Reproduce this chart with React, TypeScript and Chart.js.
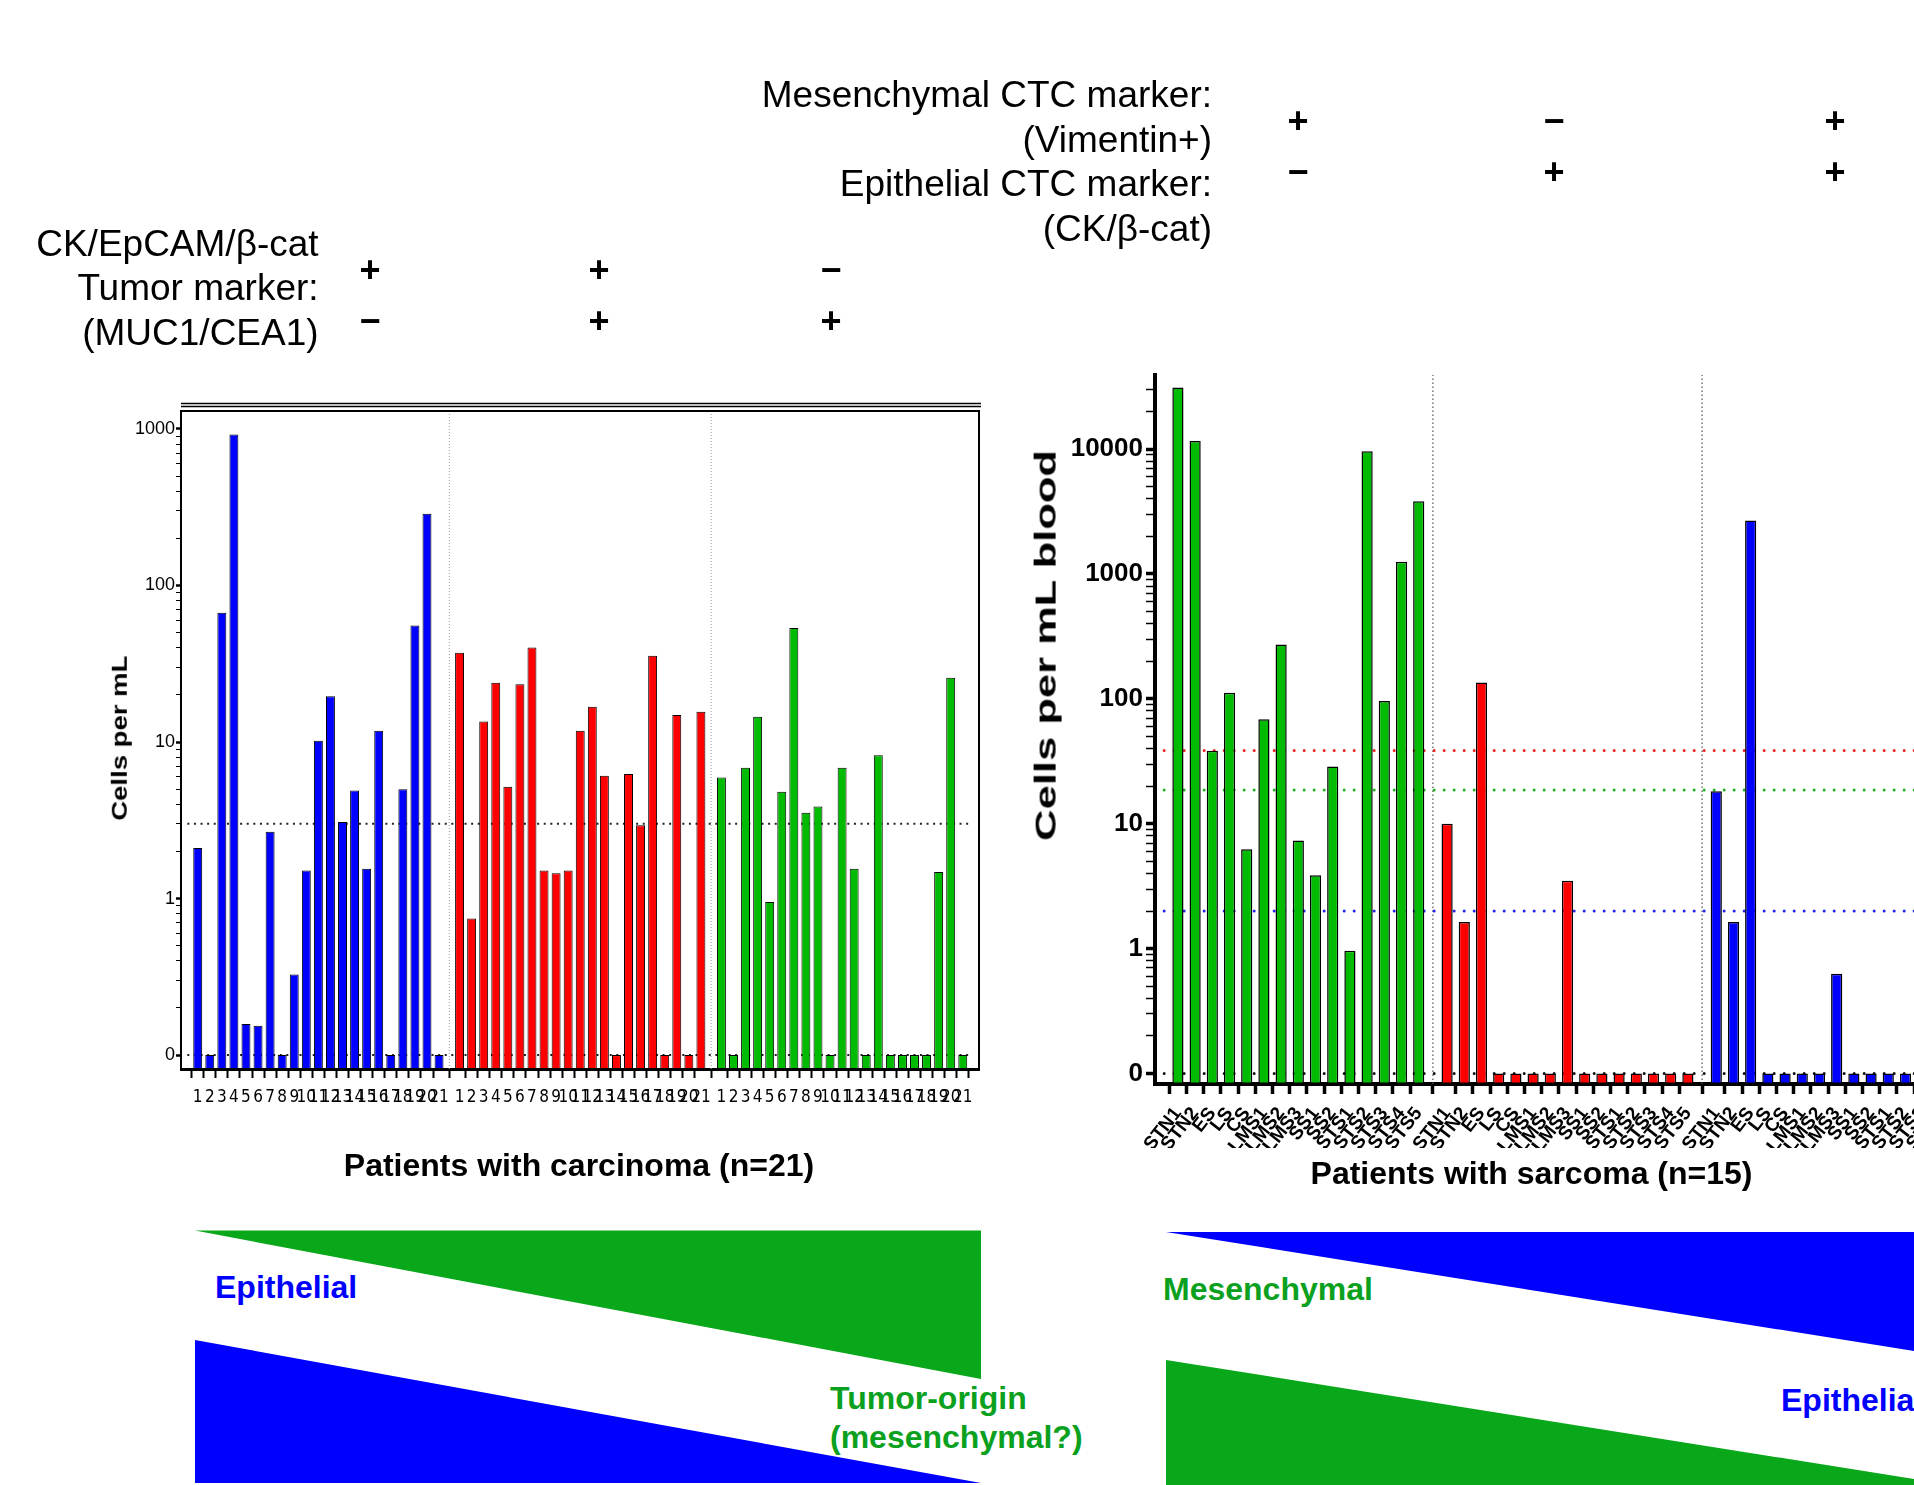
import React, { useEffect, useRef } from 'react';
import { Chart, registerables } from 'chart.js';

Chart.register(...registerables);

const SANS = "'Liberation Sans', Arial, Helvetica, sans-serif";
const CONDENSED = "'DejaVu Sans Condensed', 'Liberation Sans', sans-serif";

// ---------------- Carcinoma panel (left) ----------------
const carcinomaPatients = ['1', '2', '3', '4', '5', '6', '7', '8', '9', '10', '11', '12', '13', '14', '15', '16', '17', '18', '19', '20', '21'];
// CK/EpCAM/β-cat +, MUC1/CEA1 −  (blue)
const carcinomaEpithelial = [2.1, 0, 67, 920, 0.158, 0.154, 2.67, 0, 0.327, 1.51, 10.2, 19.6, 3.08, 4.9, 1.55, 11.8, 0, 5.0, 55.6, 287, 0];
// CK/EpCAM/β-cat +, MUC1/CEA1 +  (red)
const carcinomaEpithelialTumor = [37.2, 0.745, 13.5, 23.9, 5.17, 23.4, 40.1, 1.51, 1.45, 1.51, 11.8, 16.8, 6.08, 0, 6.24, 2.94, 35.6, 0, 14.9, 0, 15.6];
// CK/EpCAM/β-cat −, MUC1/CEA1 +  (green)
const carcinomaTumorOnly = [5.93, 0, 6.84, 14.5, 0.95, 4.81, 53.5, 3.53, 3.87, 0, 6.84, 1.55, 0, 8.22, 0, 0, 0, 0, 1.48, 25.7, 0];
const carcinomaCutoff = 3;
const carcinomaAxisRange = [0.0815, 1302];
const carcinomaDecades = [0.1, 1, 10, 100, 1000];

// ---------------- Sarcoma panel (right) ----------------
const sarcomaPatients = ['STN1', 'STN2', 'ES', 'LS', 'CS', 'LMS1', 'LMS2', 'LMS3', 'SS1', 'SS2', 'STS1', 'STS2', 'STS3', 'STS4', 'STS5'];
// Vimentin +, CK/β-cat −  (green)
const sarcomaMesenchymal = [31200, 11600, 38.4, 112, 6.25, 68.7, 273, 7.33, 3.87, 28.7, 0.96, 9630, 96, 1250, 3830];
// Vimentin −, CK/β-cat +  (red)
const sarcomaEpithelial = [10.0, 1.63, 135, 0, 0, 0, 0, 3.49, 0, 0, 0, 0, 0, 0, 0];
// Vimentin +, CK/β-cat +  (blue)
const sarcomaDual = [18.2, 1.63, 2680, 0, 0, 0, 0, 0.63, 0, 0, 0, 0, 0, 0, 0];
const sarcomaCutoffEpithelial = 38.5;
const sarcomaCutoffMesenchymal = 18.6;
const sarcomaCutoffDual = 2;
const sarcomaAxisRange = [0.0824, 39200];
const sarcomaDecades = [0.1, 1, 10, 100, 1000, 10000];

// "0" is drawn at the lowest decade of the log axis
const ZERO_LEVEL = 0.1;

function logTicks(decades: number[], max: number) {
  const out: { value: number; major: boolean }[] = [];
  decades.forEach((d) => {
    for (let m = 1; m <= 9; m++) {
      const v = parseFloat((m * d).toPrecision(6));
      if (v <= max) out.push({ value: v, major: m === 1 });
    }
  });
  return out;
}

function decadeLabel(decades: number[]) {
  return (v: number) => (v === ZERO_LEVEL ? '0' : decades.includes(v) ? String(v) : '');
}

function bars(values: number[], group: number, n: number, gap: number, color: string, pct: number, bw: number) {
  return {
    type: 'bar',
    data: values.map((v, i) => ({ x: group * (n + gap) + i, y: v > 0 ? v : ZERO_LEVEL })),
    backgroundColor: color,
    borderColor: '#000',
    borderWidth: bw,
    borderSkipped: false,
    grouped: false,
    barPercentage: pct,
    categoryPercentage: 1,
    order: 1,
  };
}

function rule(points: { x: number; y: number }[], color: string, width: number, dash: number[], cap: string) {
  return {
    type: 'line',
    data: points,
    borderColor: color,
    borderWidth: width,
    borderDash: dash,
    borderCapStyle: cap,
    pointRadius: 0,
    fill: false,
    tension: 0,
    order: 5,
  };
}

const framePlugin = {
  id: 'frame',
  afterDraw(chart: any) {
    const { ctx, chartArea } = chart;
    const { left, right, top, bottom } = chartArea;
    ctx.save();
    ctx.strokeStyle = '#000';
    ctx.lineWidth = 2;
    ctx.beginPath();
    ctx.moveTo(left, top);
    ctx.lineTo(right, top);
    ctx.lineTo(right, bottom);
    ctx.stroke();
    ctx.lineWidth = 1.5;
    ctx.beginPath();
    ctx.moveTo(left, top - 4.5);
    ctx.lineTo(right + 2, top - 4.5);
    ctx.moveTo(left, top - 7.5);
    ctx.lineTo(right + 2, top - 7.5);
    ctx.stroke();
    ctx.restore();
  },
};

function carcinomaConfig(): any {
  const n = carcinomaPatients.length;
  const gap = 0.7;
  const xs = [0, 1, 2].flatMap((g) => carcinomaPatients.map((_, i) => g * (n + gap) + i));
  const labels = [0, 1, 2].flatMap(() => carcinomaPatients);
  const xMin = -0.86;
  const xMax = xs[xs.length - 1] + 0.82;
  const [yMin, yMax] = carcinomaAxisRange;
  const seps = [1, 2].map((g) => g * (n + gap) - (1 + gap) / 2);
  return {
    type: 'bar',
    data: {
      datasets: [
        bars(carcinomaEpithelial, 0, n, gap, '#0000FF', 0.74, 1),
        bars(carcinomaEpithelialTumor, 1, n, gap, '#FF0000', 0.74, 1),
        bars(carcinomaTumorOnly, 2, n, gap, '#00BB00', 0.74, 1),
        rule([{ x: xMin, y: carcinomaCutoff }, { x: xMax, y: carcinomaCutoff }], '#222', 2, [2, 4.6], 'butt'),
        rule([{ x: xMin, y: ZERO_LEVEL }, { x: xMax, y: ZERO_LEVEL }], '#222', 2, [2, 4.6], 'butt'),
        ...seps.map((s) => rule([{ x: s, y: yMin }, { x: s, y: yMax }], '#9a9a9a', 1, [1, 2], 'butt')),
      ],
    },
    options: {
      responsive: false,
      animation: false,
      devicePixelRatio: 1,
      layout: { padding: { top: 411, left: 0, right: 21, bottom: 0 } },
      plugins: { legend: { display: false }, tooltip: { enabled: false } },
      scales: {
        x: {
          type: 'linear',
          min: xMin,
          max: xMax,
          afterBuildTicks: (s: any) => {
            s.ticks = xs.map((v) => ({ value: v }));
          },
          afterFit: (s: any) => {
            s.height = 61;
          },
          ticks: {
            autoSkip: false,
            maxRotation: 0,
            minRotation: 0,
            padding: 9,
            color: '#000',
            font: { family: CONDENSED, size: 17 },
            callback: (_v: number, i: number) => labels[i],
          },
          grid: { display: true, drawOnChartArea: false, drawTicks: true, tickLength: 9, tickWidth: 2, tickColor: '#000' },
          border: { display: true, color: '#000', width: 3 },
        },
        y: {
          type: 'logarithmic',
          min: yMin,
          max: yMax,
          afterBuildTicks: (s: any) => {
            s.ticks = logTicks(carcinomaDecades, yMax);
          },
          afterFit: (s: any) => {
            s.width = 181;
          },
          ticks: {
            autoSkip: false,
            padding: 1,
            color: '#000',
            font: { family: SANS, size: 18 },
            callback: decadeLabel(carcinomaDecades),
          },
          grid: {
            display: true,
            drawOnChartArea: false,
            drawTicks: true,
            tickLength: 5,
            tickWidth: (c: any) => (c.tick && carcinomaDecades.includes(c.tick.value) ? 2.5 : 1),
            tickColor: '#000',
          },
          border: { display: true, color: '#000', width: 2 },
        },
      },
    },
    plugins: [framePlugin],
  };
}

function sarcomaConfig(): any {
  const n = sarcomaPatients.length;
  const gap = 0.65;
  const xs = [0, 1, 2].flatMap((g) => sarcomaPatients.map((_, i) => g * (n + gap) + i));
  const labels = [0, 1, 2].flatMap(() => sarcomaPatients);
  const xMin = -0.8;
  const xMax = xs[xs.length - 1] + 0.8;
  const [yMin, yMax] = sarcomaAxisRange;
  const seps = [1, 2].map((g) => g * (n + gap) - (1 + gap) / 2);
  const hRule = (y: number, color: string) =>
    rule([{ x: xMin, y }, { x: xMax, y }], color, 3, [0, 10], 'round');
  return {
    type: 'bar',
    data: {
      datasets: [
        bars(sarcomaMesenchymal, 0, n, gap, '#00BB00', 0.65, 1.5),
        bars(sarcomaEpithelial, 1, n, gap, '#FF0000', 0.65, 1.5),
        bars(sarcomaDual, 2, n, gap, '#0000FF', 0.65, 1.5),
        hRule(sarcomaCutoffEpithelial, '#ee2222'),
        hRule(sarcomaCutoffMesenchymal, '#22b022'),
        hRule(sarcomaCutoffDual, '#2222ee'),
        hRule(ZERO_LEVEL, '#111'),
        ...seps.map((s) => rule([{ x: s, y: yMin }, { x: s, y: yMax }], '#555', 1.2, [1.5, 2.5], 'butt')),
      ],
    },
    options: {
      responsive: false,
      animation: false,
      devicePixelRatio: 1,
      layout: { padding: { top: 375, left: 0, right: 20, bottom: 0 } },
      plugins: { legend: { display: false }, tooltip: { enabled: false } },
      scales: {
        x: {
          type: 'linear',
          min: xMin,
          max: xMax,
          afterBuildTicks: (s: any) => {
            s.ticks = xs.map((v) => ({ value: v }));
          },
          afterFit: (s: any) => {
            s.height = 64;
          },
          ticks: {
            autoSkip: false,
            maxRotation: 52,
            minRotation: 52,
            padding: 9,
            color: '#000',
            font: { family: SANS, size: 19, weight: 'bold' },
            callback: (_v: number, i: number) => labels[i],
          },
          grid: { display: true, drawOnChartArea: false, drawTicks: true, tickLength: 10, tickWidth: 3.5, tickColor: '#000' },
          border: { display: true, color: '#000', width: 4 },
        },
        y: {
          type: 'logarithmic',
          min: yMin,
          max: yMax,
          afterBuildTicks: (s: any) => {
            s.ticks = logTicks(sarcomaDecades, yMax);
          },
          afterFit: (s: any) => {
            s.width = 1155;
          },
          ticks: {
            autoSkip: false,
            padding: 3,
            color: '#000',
            font: { family: SANS, size: 26, weight: 'bold' },
            callback: decadeLabel(sarcomaDecades),
          },
          grid: {
            display: true,
            drawOnChartArea: false,
            drawTicks: true,
            tickLength: 9,
            tickWidth: (c: any) => (c.tick && sarcomaDecades.includes(c.tick.value) ? 3.5 : 1.5),
            tickColor: '#000',
          },
          border: { display: true, color: '#000', width: 4 },
        },
      },
    },
  };
}

type TxtProps = {
  x: number;
  y: number;
  size: number;
  align?: 'left' | 'right' | 'center';
  bold?: boolean;
  color?: string;
  children: React.ReactNode;
};

function Txt({ x, y, size, align = 'left', bold = false, color = '#000', children }: TxtProps) {
  const W = 1200;
  const left = align === 'left' ? x : align === 'right' ? x - W : x - W / 2;
  return (
    <div
      style={{
        position: 'absolute',
        left,
        top: y - size * 0.6,
        width: W,
        height: size * 1.2,
        lineHeight: `${size * 1.2}px`,
        fontSize: size,
        fontWeight: bold ? 700 : 400,
        fontFamily: SANS,
        color,
        textAlign: align,
        whiteSpace: 'nowrap',
      }}
    >
      {children}
    </div>
  );
}

function VTxt({ x, y, size, stretch, children }: { x: number; y: number; size: number; stretch: number; children: React.ReactNode }) {
  const W = 800;
  return (
    <div
      style={{
        position: 'absolute',
        left: x - W / 2,
        top: y - size * 0.6,
        width: W,
        height: size * 1.2,
        lineHeight: `${size * 1.2}px`,
        fontSize: size,
        fontWeight: 700,
        fontFamily: SANS,
        color: '#000',
        textAlign: 'center',
        whiteSpace: 'nowrap',
        transform: `rotate(-90deg) scaleX(${stretch})`,
        transformOrigin: '50% 50%',
      }}
    >
      {children}
    </div>
  );
}

const GREEN_SHAPE = '#08A81A';
const GREEN_TEXT = '#0BA11E';
const BLUE = '#0000FF';

export default function App() {
  const leftRef = useRef<HTMLCanvasElement>(null);
  const rightRef = useRef<HTMLCanvasElement>(null);

  useEffect(() => {
    const a = new Chart(leftRef.current as HTMLCanvasElement, carcinomaConfig());
    const b = new Chart(rightRef.current as HTMLCanvasElement, sarcomaConfig());
    return () => {
      a.destroy();
      b.destroy();
    };
  }, []);

  return (
    <div
      style={{
        position: 'fixed',
        left: 0,
        top: 0,
        width: 1914,
        height: 1485,
        overflow: 'hidden',
        background: '#fff',
        fontFamily: SANS,
      }}
    >
      <svg width={1914} height={1485} style={{ position: 'absolute', left: 0, top: 0 }}>
        <polygon points="195,1230.5 981,1230.5 981,1379" fill={GREEN_SHAPE} />
        <polygon points="195,1340 195,1483 981,1483" fill={BLUE} />
        <polygon points="1166,1232 1914,1232 1914,1351" fill={BLUE} />
        <polygon points="1166,1360 1914,1479 1914,1485 1166,1485" fill={GREEN_SHAPE} />
      </svg>

      <canvas ref={leftRef} width={1000} height={1130} style={{ position: 'absolute', left: 0, top: 0 }} />
      <canvas ref={rightRef} width={2000} height={1148} style={{ position: 'absolute', left: 0, top: 0 }} />

      {/* sarcoma marker header */}
      <Txt x={1212} y={95} size={37} align="right">Mesenchymal CTC marker:</Txt>
      <Txt x={1212} y={140} size={37} align="right">(Vimentin+)</Txt>
      <Txt x={1212} y={184} size={37} align="right">Epithelial CTC marker:</Txt>
      <Txt x={1212} y={229.5} size={37} align="right">(CK/β-cat)</Txt>
      <Txt x={1298} y={121} size={36} align="center" bold>+</Txt>
      <Txt x={1554} y={121} size={36} align="center" bold>−</Txt>
      <Txt x={1835} y={121} size={36} align="center" bold>+</Txt>
      <Txt x={1298} y={172} size={36} align="center" bold>−</Txt>
      <Txt x={1554} y={172} size={36} align="center" bold>+</Txt>
      <Txt x={1835} y={172} size={36} align="center" bold>+</Txt>

      {/* carcinoma marker header */}
      <Txt x={318.6} y={244} size={37} align="right">CK/EpCAM/β-cat</Txt>
      <Txt x={318.6} y={288} size={37} align="right">Tumor marker:</Txt>
      <Txt x={318.6} y={333} size={37} align="right">(MUC1/CEA1)</Txt>
      <Txt x={370} y={270} size={36} align="center" bold>+</Txt>
      <Txt x={599} y={270} size={36} align="center" bold>+</Txt>
      <Txt x={831} y={270} size={36} align="center" bold>−</Txt>
      <Txt x={370} y={321} size={36} align="center" bold>−</Txt>
      <Txt x={599} y={321} size={36} align="center" bold>+</Txt>
      <Txt x={831} y={321} size={36} align="center" bold>+</Txt>

      {/* axis titles */}
      <VTxt x={120} y={738} size={22} stretch={1.25}>Cells per mL</VTxt>
      <VTxt x={1046} y={645} size={29} stretch={1.5}>Cells per mL blood</VTxt>
      <Txt x={579} y={1165} size={32} align="center" bold>Patients with carcinoma (n=21)</Txt>
      <Txt x={1531.5} y={1173} size={32} align="center" bold>Patients with sarcoma (n=15)</Txt>

      {/* gradient annotations */}
      <Txt x={215} y={1287} size={32} bold color={BLUE}>Epithelial</Txt>
      <Txt x={830} y={1398} size={32} bold color={GREEN_TEXT}>Tumor-origin</Txt>
      <Txt x={830} y={1437} size={32} bold color={GREEN_TEXT}>(mesenchymal?)</Txt>
      <Txt x={1163} y={1289} size={32} bold color={GREEN_TEXT}>Mesenchymal</Txt>
      <Txt x={1781} y={1400} size={32} bold color={BLUE}>Epithelial</Txt>
    </div>
  );
}
